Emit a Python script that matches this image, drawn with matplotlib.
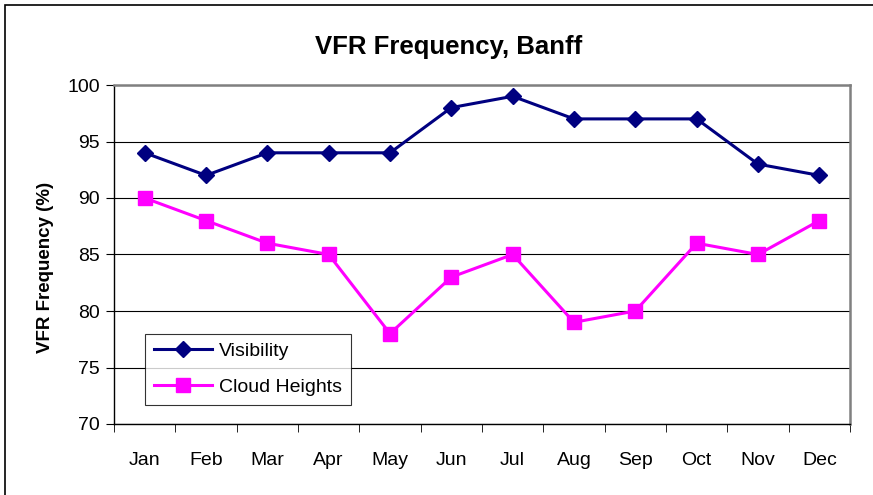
import numpy as np
import matplotlib.pyplot as plt
from matplotlib.patches import Rectangle

plt.rcParams['font.family'] = ['Liberation Sans', 'DejaVu Sans']

months = ['Jan', 'Feb', 'Mar', 'Apr', 'May', 'Jun', 'Jul', 'Aug', 'Sep', 'Oct', 'Nov', 'Dec']
visibility = [94, 92, 94, 94, 94, 98, 99, 97, 97, 97, 93, 92]
cloud_heights = [90, 88, 86, 85, 78, 83, 85, 79, 80, 86, 85, 88]

fig = plt.figure(figsize=(8.73, 4.95), dpi=100)
# рамка вокруг диаграммы (правый и нижний край обрезаны)
fig.patches.append(Rectangle((5 / 873, -0.05), 1.0, 1.05 - 5 / 495, transform=fig.transFigure,
                             fill=False, edgecolor='black', linewidth=1.2))

ax = fig.add_axes([114 / 873, 1 - 424 / 495, 736 / 873, 339 / 495])
x = np.arange(len(months))

ax.plot(x, visibility, color='#000080', marker='D', markersize=8.5, linewidth=2.2, label='Visibility', zorder=3)
ax.plot(x, cloud_heights, color='#FF00FF', marker='s', markersize=10.5, linewidth=2.2, label='Cloud Heights', zorder=3)

ax.set_xlim(-0.5, 11.5)
ax.set_ylim(70, 100)
ax.set_yticks(range(70, 101, 5))
ax.set_xticks(x)
ax.set_xticklabels(months, fontsize=14)
ax.set_xticks(np.arange(-0.5, 12, 1), minor=True)
ax.tick_params(axis='x', which='major', length=0, pad=20)
ax.tick_params(axis='x', which='minor', length=6, direction='out', color='black')
ax.tick_params(axis='y', length=6, direction='out', labelsize=14, pad=4)
ax.grid(axis='y', color='black', linewidth=0.8)
ax.set_axisbelow(True)

for side in ['top', 'right']:
    ax.spines[side].set_color('#808080')
    ax.spines[side].set_linewidth(1.8)
for side in ['left', 'bottom']:
    ax.spines[side].set_color('black')
    ax.spines[side].set_linewidth(1.0)

ax.set_ylabel('VFR Frequency (%)', fontsize=13.5, fontweight='bold')
ax.yaxis.set_label_coords(-0.081, 0.463)
fig.text(0.514, 1 - 47 / 495, 'VFR Frequency, Banff', fontsize=18.5, fontweight='bold',
         ha='center', va='center')

leg = ax.legend(loc='lower left', bbox_to_anchor=(0.042, 0.056), fontsize=14, frameon=True,
                fancybox=False, edgecolor='black', borderpad=0.45, handlelength=3.0,
                handletextpad=0.35, labelspacing=0.95, borderaxespad=0)
leg.get_frame().set_linewidth(0.8)

fig.savefig('out.png', dpi=100)
